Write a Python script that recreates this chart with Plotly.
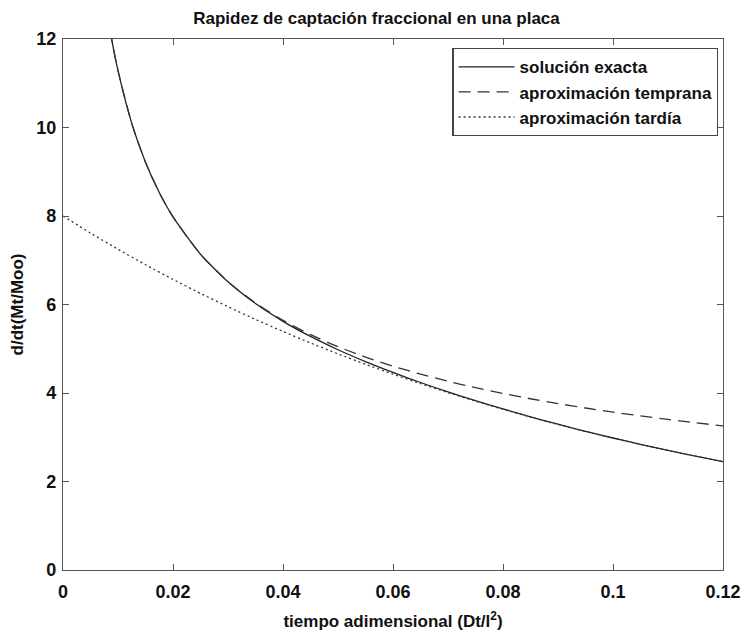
import plotly.graph_objects as go

# dimensionless time values
t_late = [0, 0.005, 0.01, 0.015, 0.02, 0.025, 0.03, 0.035, 0.04, 0.045, 0.05, 0.055, 0.06,
          0.065, 0.07, 0.075, 0.08, 0.085, 0.09, 0.095, 0.1, 0.105, 0.11, 0.115, 0.12]
late = [8.000, 7.615, 7.248, 6.899, 6.567, 6.251, 5.950, 5.663, 5.391, 5.131, 4.884, 4.649, 4.425,
        4.212, 4.009, 3.816, 3.632, 3.457, 3.291, 3.132, 2.982, 2.838, 2.701, 2.571, 2.448]

t_short = [0.0075, 0.009, 0.01, 0.0125, 0.015, 0.0175, 0.02, 0.025, 0.03, 0.035, 0.04, 0.045, 0.05,
           0.055, 0.06, 0.065, 0.07, 0.075, 0.08, 0.085, 0.09, 0.095, 0.1, 0.105, 0.11, 0.115, 0.12]
early = [13.029, 11.894, 11.284, 10.093, 9.213, 8.530, 7.979, 7.136, 6.515, 6.031, 5.642, 5.319, 5.046,
         4.811, 4.607, 4.426, 4.265, 4.120, 3.989, 3.870, 3.761, 3.661, 3.568, 3.482, 3.402, 3.327, 3.257]
exact = [13.029, 11.894, 11.284, 10.093, 9.213, 8.530, 7.979, 7.135, 6.512, 6.021, 5.620, 5.278, 4.978,
         4.709, 4.464, 4.237, 4.025, 3.826, 3.639, 3.461, 3.294, 3.134, 2.983, 2.839, 2.701, 2.572, 2.448]

x_ticks = [0, 0.02, 0.04, 0.06, 0.08, 0.1, 0.12]
x_labels = ["0", "0.02", "0.04", "0.06", "0.08", "0.1", "0.12"]
y_ticks = [0, 2, 4, 6, 8, 10, 12]

FONT = "Liberation Sans, Arial"
TXT = "#111111"

fig = go.Figure()
fig.add_trace(go.Scatter(x=t_short, y=exact, mode="lines", name="<b>solución exacta</b>",
                         line=dict(color="#222222", width=1.3, shape="spline", smoothing=0.6)))
fig.add_trace(go.Scatter(x=t_short, y=early, mode="lines", name="<b>aproximación temprana</b>",
                         line=dict(color="#333333", width=1.3, dash="12px,7px", shape="spline", smoothing=0.6)))
fig.add_trace(go.Scatter(x=t_late, y=late, mode="lines", name="<b>aproximación tardía</b>",
                         line=dict(color="#333333", width=1.3, dash="2px,3px", shape="spline", smoothing=0.6)))

axis_common = dict(showline=True, linecolor="#555555", linewidth=1.2, mirror="ticks",
                   ticks="inside", ticklen=6, tickcolor="#555555", showgrid=False, zeroline=False,
                   tickfont=dict(family=FONT, size=18, color=TXT, weight="bold"))

fig.update_layout(
    width=753, height=640,
    margin=dict(l=63, r=23, t=39, b=68),
    paper_bgcolor="white", plot_bgcolor="white",
    title=dict(text="<b>Rapidez de captación fraccional en una placa</b>", x=0.5, xanchor="center",
               y=0.972, yanchor="middle",
               font=dict(family=FONT, size=17, color=TXT)),
    xaxis=dict(range=[0, 0.12], tickvals=x_ticks, ticktext=x_labels, ticklabelstandoff=5,
               title=dict(text="<b>tiempo adimensional (Dt/l<sup>2</sup>)</b>", standoff=14,
                          font=dict(family=FONT, size=17, color=TXT)),
               **axis_common),
    yaxis=dict(range=[0, 12], tickvals=y_ticks, ticklabelstandoff=2,
               title=dict(text="<b>d/dt(Mt/Moo)</b>", standoff=8,
                          font=dict(family=FONT, size=17, color=TXT)),
               **axis_common),
    legend=dict(x=0.993, y=0.983, xanchor="right", yanchor="top",
                bordercolor="#444444", borderwidth=1.2, bgcolor="white",
                font=dict(family=FONT, size=17, color=TXT),
                tracegroupgap=0, itemwidth=56),
    showlegend=True,
)

fig.write_html("out.html")
